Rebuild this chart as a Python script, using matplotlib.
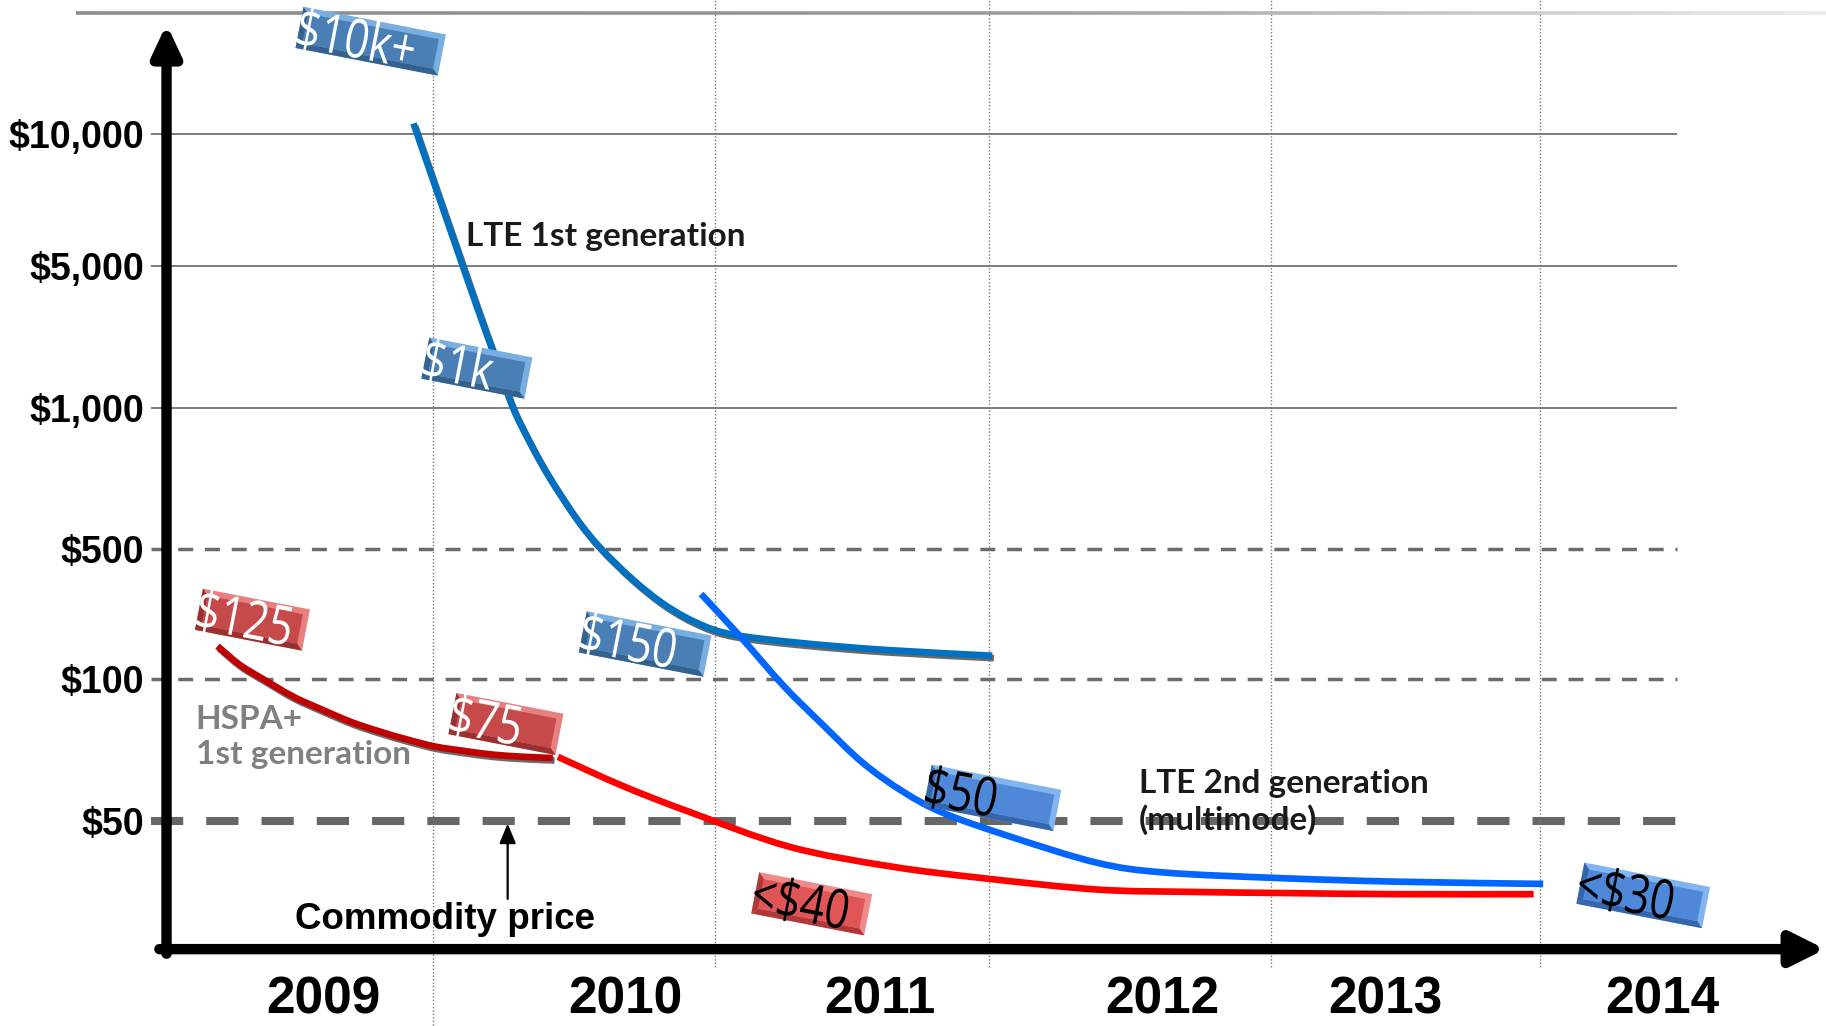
import numpy as np
import matplotlib.pyplot as plt
import matplotlib.patheffects as pe
from matplotlib.patches import Polygon, PathPatch
from matplotlib.path import Path
from matplotlib.textpath import TextPath
from matplotlib.font_manager import FontProperties
from matplotlib.transforms import Affine2D
from matplotlib.collections import LineCollection

plt.rcParams['font.family'] = ['Liberation Sans', 'DejaVu Sans']

# price axis of the slide: the ticks sit at even steps, not on a true log scale
tick_prices = [50, 100, 500, 1000, 5000, 10000]
tick_pos = [0, 1.034, 1.983, 3.008, 4.042, 5.0]
tick_labels = ['$50', '$100', '$500', '$1,000', '$5,000', '$10,000']

years = ['2009', '2010', '2011', '2012', '2013', '2014']
year_pos = [2009.0, 2010.08, 2010.99, 2012.0, 2012.8, 2013.79]
grid_years = [2009.39, 2010.40, 2011.38, 2012.39, 2013.35]

# LTE 1st generation
lte1_year = [2009.321, 2009.396, 2009.471, 2009.546, 2009.613, 2009.675, 2009.742, 2009.808,
             2009.904, 2009.988, 2010.108, 2010.225, 2010.346, 2010.467, 2010.704,
             2011.008, 2011.392]
lte1_price = [10570, 7683, 5586, 3195, 1765, 1014, 833, 709, 580, 503, 339, 247, 196.5,
              172.6, 156.1, 143.2, 133.3]

# LTE 2nd generation (multimode)
lte2_year = [2010.350, 2010.492, 2010.646, 2010.788, 2010.929, 2011.075, 2011.217,
             2011.454, 2011.767, 2012.008, 2012.425, 2012.842, 2013.363]
lte2_price = [285.5, 167.7, 96.6, 79.7, 66.4, 57.6, 52.0, 46.4, 40.8, 38.9, 37.85, 37.2, 36.8]

# HSPA+ 1st generation
hspa1_year = [2008.62, 2008.70, 2008.79, 2008.89, 2009.00, 2009.10, 2009.20,
              2009.30, 2009.40, 2009.51, 2009.61, 2009.72, 2009.82]
hspa1_price = [150, 119, 99.4, 91.8, 85.8, 81.0, 77.4, 74.4, 71.9, 70.3, 69.1, 68.4, 68.0]

# HSPA+ later
hspa2_year = [2009.838, 2010.071, 2010.308, 2010.667, 2011.025, 2011.358, 2011.767,
              2012.092, 2012.425, 2012.842, 2013.329]
hspa2_price = [68.4, 59.3, 52.3, 44.1, 40.1, 37.85, 35.8, 35.4, 35.2, 35.0, 35.0]

tag_text = ['$10k+', '$1k', '$150', '$125', '$75', '$50', '<$40', '<$30']


def lvl(p):
    # piecewise log mapping onto the slide's evenly spaced ticks
    lp = np.log10(np.asarray(p, dtype=float))
    lt = np.log10(tick_prices)
    y = np.interp(lp, lt, tick_pos)
    s0 = (tick_pos[1] - tick_pos[0]) / (lt[1] - lt[0])
    s1 = (tick_pos[-1] - tick_pos[-2]) / (lt[-1] - lt[-2])
    y = np.where(lp < lt[0], tick_pos[0] + (lp - lt[0]) * s0, y)
    y = np.where(lp > lt[-1], tick_pos[-1] + (lp - lt[-1]) * s1, y)
    return y


def smooth_path(xs, ys):
    # catmull-rom through the read points, drawn as cubic beziers
    pts = np.column_stack([xs, ys])
    ext = np.vstack([pts[0], pts, pts[-1]])
    verts = [pts[0]]
    for i in range(1, len(ext) - 2):
        p0, p1, p2, p3 = ext[i - 1], ext[i], ext[i + 1], ext[i + 2]
        verts += [p1 + (p2 - p0) / 6, p2 - (p3 - p1) / 6, p2]
    codes = [Path.MOVETO] + [Path.CURVE4] * (len(verts) - 1)
    return Path(verts, codes)


fig = plt.figure(figsize=(18.26, 10.26), dpi=100)
ax = fig.add_axes([143 / 1568, 66 / 881, 1 - 143 / 1568, 815 / 881])
ax.set_xlim(2008.4375, 2014.375)
ax.set_ylim(-0.932, 5.975)
for s in ax.spines.values():
    s.set_visible(False)

ax.set_yticks(lvl(tick_prices), tick_labels, fontsize=27, fontweight='bold')
ax.set_xticks(year_pos, years, fontsize=37, fontweight='bold')
ax.tick_params(length=0)
ax.tick_params(axis='y', pad=16)
ax.tick_params(axis='x', pad=19)

# grid
x0, x1 = 2008.383, 2013.842
ax.hlines(lvl([1000, 5000, 10000]), x0, x1, color='#5a5a5a', lw=1.1, clip_on=False, zorder=1)
ax.hlines(lvl([100, 500]), x0, x1, color='#6b6b6b', lw=2.5,
          linestyles=[(0, (4.3, 3.4))], clip_on=False, zorder=1)
ax.hlines(lvl(50), x0, x1, color='#666666', lw=5.8,
          linestyles=[(0, (4.0, 2.86))], clip_on=False, zorder=1)
ax.vlines(grid_years[0], lvl(18.5), 5.43, color='#777777', lw=1.0,
          linestyles=[(0, (1, 1.5))], clip_on=False, zorder=1)
ax.vlines(grid_years[1:], -1.06, 5.975, color='#777777', lw=1.0,
          linestyles=[(0, (1, 1.5))], clip_on=False, zorder=1)

# fading rule at the top of the slide
tx = np.linspace(2008.1125, 2014.375, 80)
segs = [[(tx[i], 5.881), (tx[i + 1], 5.881)] for i in range(len(tx) - 1)]
g = np.interp(tx[:-1], [2008.1, 2011.3, 2014.4], [0.55, 0.6, 0.93])
lc = LineCollection(segs, colors=[(v, v, v) for v in g], lw=2.6, clip_on=False, zorder=1)
ax.add_collection(lc)

# axes arrows
ax.annotate('', xy=(2008.4375, 5.80), xytext=(2008.4375, -0.965),
            arrowprops=dict(arrowstyle='-|>,head_length=0.9,head_width=0.42', lw=7.5,
                            color='black', shrinkA=0, shrinkB=0, mutation_scale=20),
            annotation_clip=False, zorder=8)
ax.annotate('', xy=(2014.372, -0.932), xytext=(2008.412, -0.932),
            arrowprops=dict(arrowstyle='-|>,head_length=1.0,head_width=0.5', lw=7.5,
                            color='black', shrinkA=0, shrinkB=0, mutation_scale=20),
            annotation_clip=False, zorder=8)

# curves
shadow = [pe.SimpleLineShadow(offset=(1.2, -1.8), shadow_color='#5a5a5a', alpha=0.9), pe.Normal()]
curves = [
    (lte1_year, lte1_price, '#0070C0', shadow, 4),
    (hspa1_year, hspa1_price, '#C00000', shadow, 4),
    (hspa2_year, hspa2_price, '#FF0000', None, 4),
    (lte2_year, lte2_price, '#0066FF', None, 5),
]
for xs, ps, col, fx, z in curves:
    patch = PathPatch(smooth_path(xs, lvl(ps)), fill=False, ec=col, lw=4.8,
                      capstyle='butt', zorder=z)
    if fx:
        patch.set_path_effects(fx)
    ax.add_patch(patch)

# labels
lab_font = dict(family=['Lato', 'DejaVu Sans'], fontweight='bold', fontsize=24)
ax.text(2009.508, lvl(5830), 'LTE 1st generation', color='#1a1a1a',
        ha='left', va='center', zorder=6, **lab_font)
ax.text(2011.917, lvl(54.8), 'LTE 2nd generation\n(multimode)', color='#1a1a1a',
        ha='left', va='center', linespacing=1.25, zorder=6, **lab_font)
ax.text(2008.542, lvl(75.3), 'HSPA+\n1st generation', color='#808080',
        ha='left', va='center', linespacing=1.22, zorder=6, **lab_font)
ax.text(2009.433, lvl(31.0), 'Commodity price', fontsize=26.5, fontweight='bold',
        ha='center', va='center', zorder=6)
ax.annotate('', xy=(2009.658, lvl(49.4)), xytext=(2009.658, lvl(34.2)),
            arrowprops=dict(arrowstyle='-|>,head_length=0.6,head_width=0.25', lw=1.6,
                            color='black', shrinkA=0, shrinkB=0, mutation_scale=20),
            annotation_clip=False, zorder=6)

# bevelled price tags
fp_tag = FontProperties(family='Open Sans')


def price_tag(x, p, w, txt, face, light, dark, tcol, angle=-11, h=42):
    cx, cy = ax.transData.transform((x, float(lvl(p))))
    rot = Affine2D().rotate_deg(angle).translate(cx, cy)
    hw, hh, b = w / 2, h / 2, 6
    parts = [
        ([(-hw, -hh), (hw, -hh), (hw, hh), (-hw, hh)], light),
        ([(-hw, -hh), (hw, -hh), (hw - b, -hh + b), (-hw + b, -hh + b)], dark),
        ([(-hw, -hh), (-hw + b, -hh + b), (-hw + b, hh - b), (-hw, hh)], dark),
        ([(-hw + b, -hh + b), (hw - b, -hh + b), (hw - b, hh - b), (-hw + b, hh - b)], face),
    ]
    for pts, c in parts:
        ax.add_patch(Polygon(pts, closed=True, fc=c, ec='none', transform=rot,
                             clip_on=False, zorder=7))
    tp = TextPath((0, 0), txt, size=54, prop=fp_tag)
    tt = Affine2D().scale(0.8, 1).translate(-hw - 3, -19) + rot
    ax.add_patch(PathPatch(tp, fc=tcol, ec='none', transform=tt, clip_on=False, zorder=8))


blue = ('#4a7fb5', '#79aee0', '#33628f')
blue2 = ('#4f87d9', '#82b4f0', '#3565ad')
red = ('#c64a4a', '#e88080', '#9a3030')
red2 = ('#e05656', '#f08a8a', '#b03838')

price_tag(2009.168, 16300, 145, tag_text[0], *blue, 'white')
price_tag(2009.548, 1567, 105, tag_text[1], *blue, 'white')
price_tag(2010.150, 154, 127, tag_text[2], *blue, 'white')
price_tag(2008.745, 208, 109, tag_text[3], *red, 'white')
price_tag(2009.652, 80.3, 109, tag_text[4], *red, 'white')
price_tag(2011.393, 56.0, 132, tag_text[5], *blue2, 'black')
price_tag(2010.746, 33.4, 115, tag_text[6], *red2, 'black')
price_tag(2013.721, 34.8, 128, tag_text[7], *blue2, 'black')

fig.savefig('out.png', dpi=100)
